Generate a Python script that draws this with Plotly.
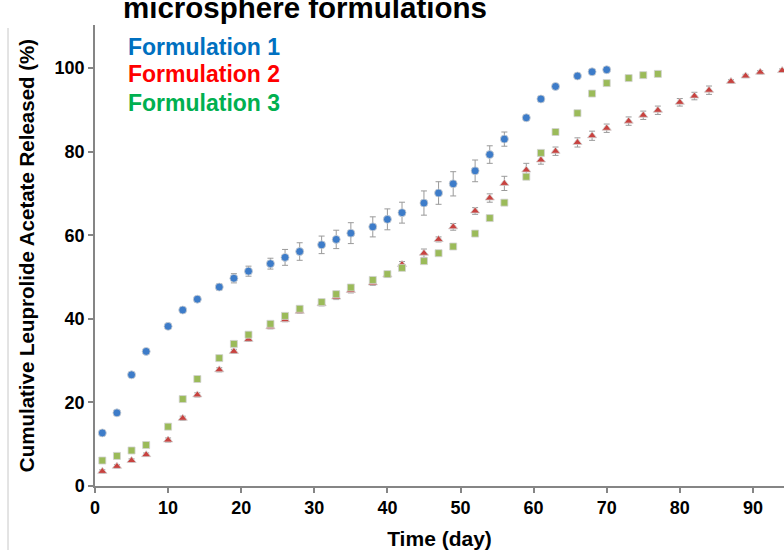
import plotly.graph_objects as go

# ---- data ----
days_f1 = [1, 3, 5, 7, 10, 12, 14, 17, 19, 21, 24, 26, 28, 31, 33, 35, 38, 40, 42, 45,
           47, 49, 52, 54, 56, 59, 61, 63, 66, 68, 70]
rel_f1 = [12.7, 17.5, 26.6, 32.2, 38.2, 42.1, 44.7, 47.6, 49.7, 51.4, 53.2, 54.7, 56.1,
          57.7, 59.0, 60.5, 62.0, 63.8, 65.4, 67.7, 70.1, 72.3, 75.4, 79.3, 83.0, 88.1,
          92.6, 95.6, 98.1, 99.1, 99.6]
err_f1 = [0.5, 0.5, 0.5, 0.5, 0.5, 0.5, 0.6, 0.7, 1.1, 1.2, 1.3, 1.9, 2.1, 2.1, 2.2, 2.5,
          2.4, 2.5, 2.5, 2.9, 2.7, 2.9, 2.6, 2.1, 1.7, 0.6, 0.4, 0.4, 0.4, 0.4, 0.4]

days_f2 = [1, 3, 5, 7, 10, 12, 14, 17, 19, 21, 24, 26, 28, 31, 33, 35, 38, 40, 42, 45,
           47, 49, 52, 54, 56, 59, 61, 63, 66, 68, 70, 73, 75, 77, 80, 82, 84, 87, 89, 91, 94]
rel_f2 = [3.5, 4.7, 6.1, 7.5, 11.0, 16.2, 21.8, 27.8, 32.2, 35.1, 38.1, 39.8, 41.8, 43.6,
          45.2, 46.8, 48.6, 50.5, 53.0, 55.7, 59.0, 62.0, 65.8, 68.9, 72.4, 75.6, 78.0,
          80.1, 82.2, 83.8, 85.6, 87.3, 88.7, 89.9, 91.8, 93.3, 94.7, 96.8, 98.1, 99.0, 99.4]
err_f2 = [0.4, 0.4, 0.4, 0.4, 0.5, 0.5, 0.5, 0.5, 0.5, 0.5, 0.5, 0.5, 0.5, 0.5, 0.6, 0.6,
          0.6, 0.6, 0.7, 1.0, 0.6, 0.8, 0.8, 1.0, 1.7, 1.6, 1.0, 1.0, 1.1, 1.1, 1.0, 1.0,
          1.0, 1.0, 0.9, 0.9, 1.0, 0.4, 0.4, 0.4, 0.4]

days_f3 = [1, 3, 5, 7, 10, 12, 14, 17, 19, 21, 24, 26, 28, 31, 33, 35, 38, 40, 42, 45,
           47, 49, 52, 54, 56, 59, 61, 63, 66, 68, 70, 73, 75, 77]
rel_f3 = [6.1, 7.2, 8.5, 9.8, 14.2, 20.8, 25.6, 30.6, 34.0, 36.2, 38.8, 40.7, 42.4, 44.0,
          45.9, 47.5, 49.3, 50.7, 52.2, 53.8, 55.7, 57.3, 60.4, 64.1, 67.8, 74.0, 79.7,
          84.7, 89.2, 93.9, 96.4, 97.6, 98.3, 98.6]
err_f3 = [0.4, 0.4, 0.4, 0.4, 0.5, 0.5, 0.5, 0.5, 0.5, 0.6, 0.5, 0.5, 0.6, 0.5, 0.5, 0.6,
          0.5, 0.5, 0.5, 0.5, 0.5, 0.5, 0.5, 0.5, 0.5, 0.4, 0.4, 0.4, 0.4, 0.4, 0.4, 0.4,
          0.4, 0.5]

series_names = ["Formulation 1", "Formulation 2", "Formulation 3"]
x_ticks = [0, 10, 20, 30, 40, 50, 60, 70, 80, 90]
y_ticks = [0, 20, 40, 60, 80, 100]
title_text = "microsphere formulations"
x_title = "Time (day)"
y_title = "Cumulative Leuprolide Acetate Released (%)"

FONT = "Liberation Sans, Arial, sans-serif"
marker_colors = ["#3D7CC9", "#C8423F", "#9BBB59"]
text_colors = ["#0070C0", "#FF0000", "#00B050"]
symbols = ["circle", "triangle-up", "square"]
sizes = [8, 8, 7]

# plot-area geometry (pixels) used for paper-coordinate annotations
L, R, T, B = 95, 0, 25, 64
PW, PH = 784 - L - R, 550 - T - B

fig = go.Figure()
for name, xs, ys, es, mc, sym, sz in zip(
        series_names, [days_f1, days_f2, days_f3], [rel_f1, rel_f2, rel_f3],
        [err_f1, err_f2, err_f3], marker_colors, symbols, sizes):
    fig.add_trace(go.Scatter(
        x=xs, y=ys, mode="markers", name=name, cliponaxis=False,
        marker=dict(symbol=sym, size=sz, color=mc,
                    line=dict(width=1, color="rgba(210,210,210,0.8)")),
        error_y=dict(type="data", array=es, visible=True, color="#9A9A9A",
                     thickness=1, width=3),
        showlegend=False,
    ))

# legend as coloured text
leg_y = [47, 74, 103]
for name, col, yy in zip(series_names, text_colors, leg_y):
    fig.add_annotation(
        text=name, xref="paper", yref="paper",
        x=(126 - L) / PW, y=(550 - B - yy) / PH, xanchor="left", yanchor="middle",
        showarrow=False, font=dict(family=FONT, size=23, color=col, weight="bold"))

# cropped title
fig.add_annotation(
    text=title_text, xref="paper", yref="paper", x=(121 - L) / PW,
    y=(550 - B - 17) / PH, xanchor="left", yanchor="bottom", yshift=-9,
    showarrow=False,
    font=dict(family=FONT, size=29.5, color="black", weight="bold"))

# faint frame line on the left
fig.add_shape(type="line", xref="paper", yref="paper",
              x0=(8 - L) / PW, x1=(8 - L) / PW, y0=-B / PH, y1=(550 - B - 28) / PH,
              line=dict(color="#C8C8C8", width=1))

axis_common = dict(showgrid=False, zeroline=False, showline=True, linecolor="#858585",
                   linewidth=1.5, ticks="outside", tickcolor="#858585", tickwidth=1.5,
                   ticklen=5, automargin=False,
                   tickfont=dict(family=FONT, size=18, color="black", weight="bold"))

fig.update_xaxes(range=[0, (784 - 95) / 7.31], tickvals=x_ticks,
                 title=dict(text=x_title, standoff=14,
                            font=dict(family=FONT, size=21, color="black", weight="bold")),
                 **axis_common)
fig.update_yaxes(range=[0, 110.3], tickvals=y_ticks,
                 title=dict(text=y_title, standoff=14,
                            font=dict(family=FONT, size=20.5, color="black", weight="bold")),
                 **axis_common)

fig.update_layout(width=784, height=550, margin=dict(l=L, r=R, t=T, b=B, autoexpand=False),
                  plot_bgcolor="white", paper_bgcolor="white")

# remove the default 8px page margin so the figure fills the window exactly
fig.write_html("out.html", config={"displayModeBar": False},
               post_script="document.body.style.margin='0';document.body.style.overflow='hidden';")
